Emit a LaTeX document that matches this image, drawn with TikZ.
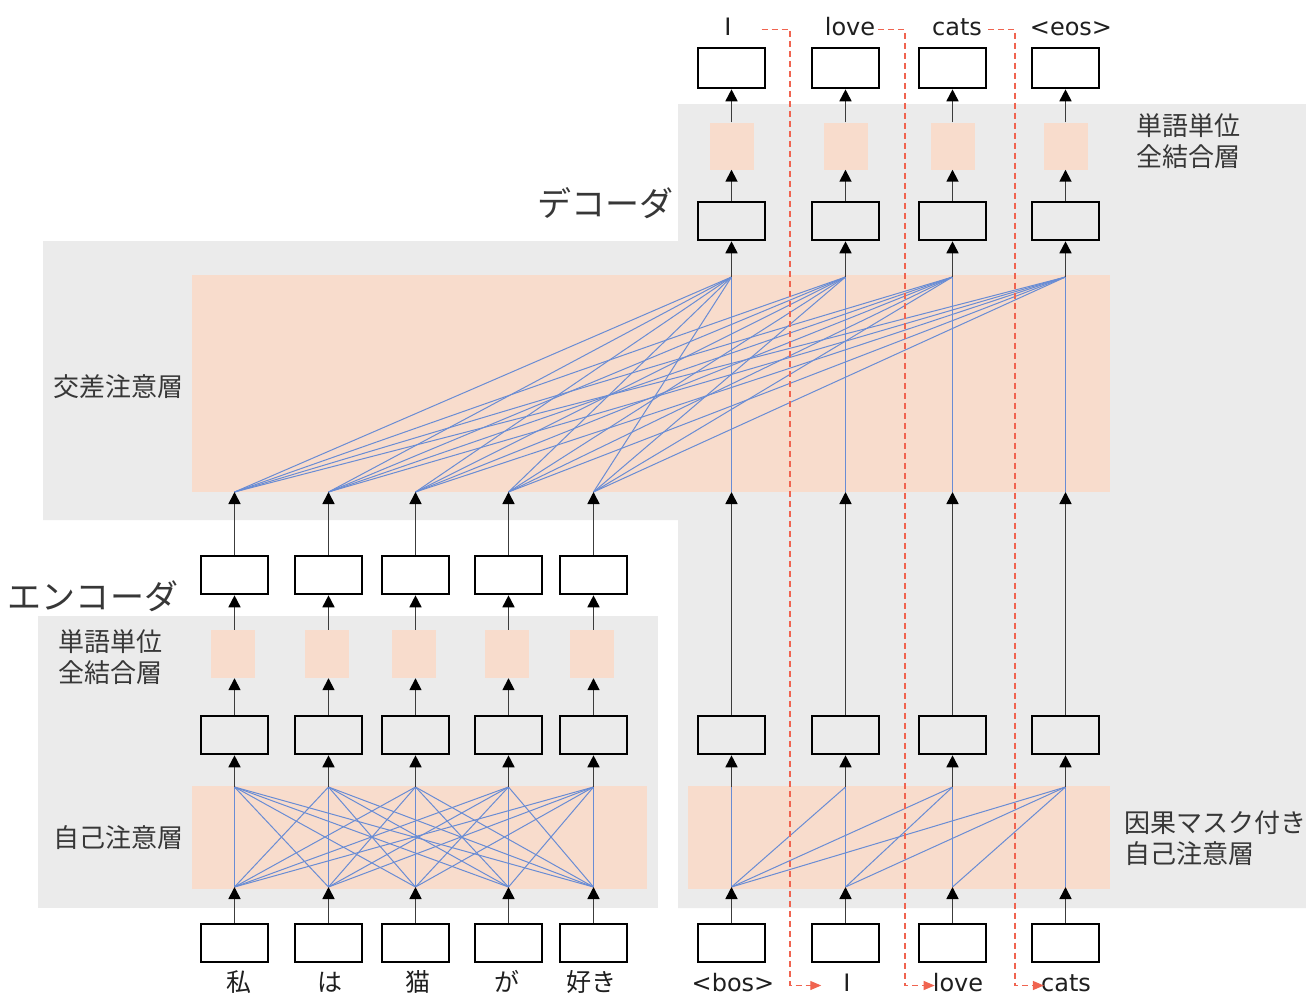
\documentclass[tikz,border=0pt]{standalone}
\usepackage{fontspec}
\setmainfont{DejaVu Sans}
\newfontfamily\jp{Noto Sans CJK JP}
\usetikzlibrary{arrows.meta}
\definecolor{bggray}{RGB}{235,235,235}
\definecolor{peach}{RGB}{248,220,204}
\definecolor{attblue}{RGB}{105,140,212}
\definecolor{reddash}{RGB}{240,100,80}
\definecolor{txtgray}{RGB}{55,55,55}
\definecolor{arrgray}{RGB}{60,60,60}
\tikzset{
  box/.style={draw=black,line width=2.6pt,minimum width=67pt,minimum height=38pt,inner sep=0pt},
  ffn/.style={fill=peach,minimum width=44pt,minimum height=48pt,inner sep=0pt},
  arr/.style={draw=arrgray,line width=1.7pt,-{Triangle[width=12pt,length=12pt,color=black]}},
  att/.style={draw=attblue,line width=1pt},
  word/.style={font=\fontsize{24}{28}\selectfont,text=black!88,text height=15pt,text depth=4pt,inner sep=0pt,anchor=base},
  jpword/.style={word,font=\jp\fontsize{25}{28}\selectfont},
  jplabel/.style={font=\jp\fontsize{26}{31}\selectfont,text=txtgray,inner sep=0pt},
  biglabel/.style={font=\jp\fontsize{34}{40}\selectfont,text=txtgray,inner sep=0pt},
  rdash/.style={draw=reddash,line width=1.3pt,dash pattern=on 6pt off 4pt,-{Triangle[width=9pt,length=11pt,color=reddash]}},
}
\begin{document}
\begin{tikzpicture}[x=1pt,y=-1pt]
\useasboundingbox (0,0) rectangle (1306,996);
% gray backgrounds
\fill[bggray] (38,616) rectangle (658,908);
\fill[bggray] (43,241) -- (678,241) -- (678,104) -- (1306,104) -- (1306,908) -- (678,908) -- (678,520) -- (43,520) -- cycle;
% peach layers
\fill[peach] (192,275) rectangle (1110,492);
\fill[peach] (192,786) rectangle (647,889);
\fill[peach] (688,786) rectangle (1110,889);

% encoder columns
\foreach \x [count=\i] in {234.5,328.5,415.5,508.5,593.5} {
  \node[box] (ein\i) at (\x,943) {};
  \coordinate (esb\i) at (\x,887);
  \coordinate (est\i) at (\x,787);
  \node[box] (emid\i) at (\x,735) {};
  \node[ffn] (eff\i) at (\x-1.5,654) {};
  \node[box] (etop\i) at (\x,575) {};
  \coordinate (ca\i) at (\x,492);
}
% decoder columns
\foreach \x [count=\j] in {731.5,845.5,952.5,1065.5} {
  \node[box] (din\j) at (\x,943) {};
  \coordinate (dsb\j) at (\x,887);
  \coordinate (dst\j) at (\x,787);
  \node[box] (dmid\j) at (\x,735) {};
  \coordinate (dcb\j) at (\x,492);
  \coordinate (dct\j) at (\x,277);
  \node[box] (dbox\j) at (\x,221) {};
  \node[ffn,minimum height=47pt] (dff\j) at (\x,146) {};
  \node[box,minimum height=40pt] (dtop\j) at (\x,68) {};
}

% encoder self-attention
\foreach \i in {1,...,5} {
  \foreach \k in {1,...,5} {
    \draw[att] (esb\i) -- (est\k);
  }
}
% decoder causal self-attention
\foreach \j in {1,...,4} {
  \foreach \i in {1,...,\j} {
    \draw[att] (dsb\i) -- (dst\j);
  }
}
% cross attention
\foreach \j in {1,...,4} {
  \draw[att] (dcb\j) -- (dct\j);
  \foreach \i in {1,...,5} {
    \draw[att] (ca\i) -- (dct\j);
  }
}

% encoder arrows
\foreach \i in {1,...,5} {
  \draw[arr] (ein\i.north) -- (esb\i);
  \draw[arr] (est\i) -- (emid\i.south);
  \draw[arr] (emid\i.north) -- (emid\i.north |- eff\i.south);
  \draw[arr] (emid\i.north |- eff\i.north) -- (etop\i.south);
  \draw[arr] (etop\i.north) -- (ca\i);
}
% decoder arrows
\foreach \j in {1,...,4} {
  \draw[arr] (din\j.north) -- (dsb\j);
  \draw[arr] (dst\j) -- (dmid\j.south);
  \draw[arr] (dmid\j.north) -- (dcb\j);
  \draw[arr] (dct\j) -- (dbox\j.south);
  \draw[arr] (dbox\j.north) -- (dff\j.south);
  \draw[arr] (dff\j.north) -- (dtop\j.south);
}

% words
\node[word] (tI) at (728,35) {I};
\node[word] (tlove) at (850,35) {love};
\node[word] (tcats) at (957,35) {cats};
\node[word] (teos) at (1071,35) {<eos>};
\node[word] (bbos) at (733,991) {<bos>};
\node[word] (bI) at (847,991) {I};
\node[word] (blove) at (958,991) {love};
\node[word] (bcats) at (1066,991) {cats};
\node[jpword] (w1) at (239,991) {私};
\node[jpword] (w2) at (330,991) {は};
\node[jpword] (w3) at (418,991) {猫};
\node[jpword] (w4) at (507,991) {が};
\node[jpword] (w5) at (591,991) {好き};

% red dashed feedback
\coordinate (r1) at (790,0);
\coordinate (r2) at (905,0);
\coordinate (r3) at (1015,0);
\draw[rdash] ([xshift=30pt]tI.east) -- (tI.east -| r1) -- (r1 |- bI.west) -- ([xshift=-22pt]bI.west);
\draw[rdash] ([xshift=3pt]tlove.east) -- (tlove.east -| r2) -- (r2 |- blove.west) -- ([xshift=2pt]blove.west);
\draw[rdash] ([xshift=6pt]tcats.east) -- (tcats.east -| r3) -- (r3 |- bcats.west) -- ([xshift=3pt]bcats.west);

% labels
\node[biglabel] (declabel) at (605,203) {デコーダ};
\node[biglabel] (enclabel) at (93,596) {エンコーダ};
\node[jplabel] (crosslabel) at (118,387) {交差注意層};
\node[jplabel] (saelabel) at (118,838) {自己注意層};
\node[jplabel,align=left] (efflabel) at (110,657) {単語単位\\全結合層};
\node[jplabel,align=left] (dfflabel) at (1188,141) {単語単位\\全結合層};
\node[jplabel,align=left,anchor=west] (dsalabel) at (1124,838) {因果マスク付き\\自己注意層};
\end{tikzpicture}
\end{document}
